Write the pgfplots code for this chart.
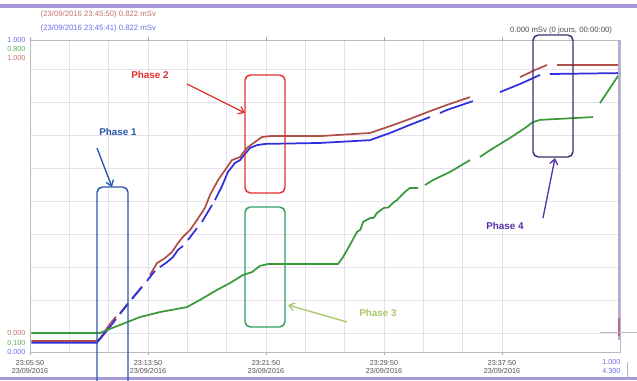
\documentclass[border=0pt]{standalone}
\usepackage{fontspec}
\setmainfont{Liberation Sans}
\usepackage{pgfplots}
\pgfplotsset{compat=1.18}
\usetikzlibrary{arrows.meta}

\definecolor{doseRed}{HTML}{B0504A}
\definecolor{doseBlue}{HTML}{2F2FE0}
\definecolor{doseGreen}{HTML}{3A9A3A}
\definecolor{gridLav}{HTML}{E6E0EE}
\definecolor{barLav}{HTML}{A898D8}
\definecolor{cursorLav}{HTML}{BCA8D8}
\definecolor{phaseOne}{HTML}{2858A8}
\definecolor{phaseTwo}{HTML}{E03030}
\definecolor{phaseThree}{HTML}{30A060}
\definecolor{phaseThreeTxt}{HTML}{A8C868}
\definecolor{phaseFour}{HTML}{40306A}
\definecolor{phaseFourTxt}{HTML}{5A30A8}
\definecolor{tickTxt}{HTML}{505050}

\newcommand{\tinyfont}{\fontsize{5.4}{6.3}\selectfont}
\newcommand{\headfont}{\fontsize{5.8}{6.5}\selectfont}
\newcommand{\phasefont}{\fontsize{7.4}{8}\selectfont\bfseries}

\begin{document}
\begin{tikzpicture}[x=0.75pt,y=0.75pt]
\path[use as bounding box] (0,0) rectangle (637,380);
\fill[white] (0,0) rectangle (637,380);
% window frame bars
\fill[barLav] (0,372) rectangle (637,376);
\fill[barLav] (0,0) rectangle (637,3);

\begin{axis}[
  at={(22.5pt,21pt)}, anchor=south west,
  scale only axis, width=442.5pt, height=234pt,
  xmin=0, xmax=40, ymin=0, ymax=1,
  axis line style={gray!55},
  xtick={0,8,16,24,32},
  xticklabels={{23:05:50\\23/09/2016},{23:13:50\\23/09/2016},{23:21:50\\23/09/2016},{23:29:50\\23/09/2016},{23:37:50\\23/09/2016}},
  xticklabel style={align=center, font=\tinyfont, text=tickTxt},
  minor x tick num=2,
  ytick={0.061,0.167,0.272,0.378,0.484,0.590,0.696,0.801,0.907},
  yticklabels={},
  grid=both,
  major grid style={gridLav, line width=0.5pt},
  minor grid style={gridLav, line width=0.5pt},
  tick align=outside,
  major tick length=2.5pt, minor tick length=0pt,
  ytick style={draw=none},
  xtick style={gray!70},
  unbounded coords=jump,
  clip=false,
]
% accumulated dose, red channel
\addplot[doseRed, line width=1.3pt] coordinates {
(0.1,0.035) (4.54,0.035) (4.81,0.048) (5.08,0.067) (5.42,0.090) (5.83,0.113) (5.9,nan)
(6.10,0.124) (6.64,0.156) (6.8,nan)
(6.92,0.172) (7.59,0.210) (7.7,nan)
(8.14,0.247) (8.61,0.285) (9.15,0.301) (9.63,0.321) (10.03,0.349) (10.37,0.369) (10.85,0.391) (11.32,0.423) (11.86,0.462) (12.20,0.503) (12.75,0.551) (13.22,0.583) (13.69,0.615) (14.24,0.625) (14.71,0.654) (15.25,0.673) (15.73,0.689) (16.27,0.692) (19.66,0.692) (23.05,0.702) (24.41,0.724) (25.76,0.747) (27.12,0.772) (28.27,0.792) (29.83,0.817) (30.0,nan)
(33.22,0.881) (34.24,0.904) (35.05,0.920) (35.3,nan)
(35.73,0.920) (40,0.920)
};
% accumulated dose, blue channel
\addplot[doseBlue, line width=1.3pt] coordinates {
(0.1,0.030) (4.54,0.030) (4.81,0.045) (5.08,0.061) (5.42,0.080) (5.83,0.106) (5.95,nan)
(6.10,0.122) (6.64,0.154) (6.8,nan)
(6.92,0.170) (7.59,0.208) (7.7,nan)
(7.93,0.228) (8.47,0.260) (8.6,nan)
(8.81,0.272) (9.29,0.288) (9.69,0.304) (10.03,0.327) (10.37,0.340) (10.5,nan)
(10.71,0.359) (11.32,0.397) (11.5,nan)
(11.66,0.417) (12.34,0.471) (12.45,nan)
(12.54,0.487) (13.02,0.532) (13.42,0.577) (13.90,0.606) (14.24,0.615) (14.58,0.635) (14.92,0.654) (15.39,0.663) (15.93,0.667) (19.66,0.670) (23.05,0.679) (24.41,0.702) (25.76,0.728) (27.12,0.753) (27.4,nan)
(27.80,0.766) (28.27,0.776) (30.03,0.804) (30.5,nan)
(31.86,0.833) (33.22,0.859) (34.58,0.888) (34.9,nan)
(35.25,0.891) (40,0.894)
};
% accumulated dose, green channel
\addplot[doseGreen, line width=1.3pt] coordinates {
(0.1,0.061) (4.75,0.061) (5.02,0.067) (5.42,0.074) (6.44,0.093) (7.46,0.112) (8.81,0.128) (10.64,0.144) (11.53,0.167) (12.68,0.199) (13.56,0.221) (14.44,0.247) (15.05,0.256) (15.59,0.276) (16.14,0.282) (20.88,0.282) (21.22,0.304) (21.69,0.343) (22.17,0.385) (22.40,0.392) (22.58,0.417) (23.05,0.429) (23.30,0.430) (23.53,0.446) (24.00,0.462) (24.30,0.463) (24.61,0.478) (24.88,0.487) (25.42,0.513) (25.76,0.526) (26.31,0.526) (26.5,nan)
(26.78,0.535) (27.32,0.551) (28.47,0.577) (29.83,0.615) (30.2,nan)
(30.5,0.625) (31.19,0.647) (32.54,0.686) (33.56,0.718) (34.10,0.737) (34.58,0.744) (38.17,0.753) (38.4,nan)
(38.64,0.798) (40,0.894)
};
\end{axis}

% cursor at the end of the record
\draw[cursorLav, line width=2.2pt] (619,340) -- (619,40);
\draw[cursorLav!60!purple, line width=2.2pt] (619,62) -- (619,44);

% header readouts
\node[anchor=west, font=\headfont, text=doseRed!80!white] at (36,366) {(23/09/2016 23:45:50) 0.822 mSv};
\node[anchor=west, font=\headfont, text=doseBlue!70!white] at (36,352) {(23/09/2016 23:45:41) 0.822 mSv};
\node[font=\headfont, text=tickTxt] at (561,350) {0.000 mSv (0 jours, 00:00:00)};

% per-channel scale limits
\node[anchor=east, font=\tinyfont, text=doseBlue!70!white] at (30,340) {1.000};
\node[anchor=east, font=\tinyfont, text=doseGreen!80!white] at (30,331) {0.800};
\node[anchor=east, font=\tinyfont, text=doseRed!80!white] at (30,322) {1.000};
\node[anchor=east, font=\tinyfont, text=doseRed!80!white] at (30,47) {0.000};
\node[anchor=east, font=\tinyfont, text=doseGreen!80!white] at (30,37) {0.100};
\node[anchor=east, font=\tinyfont, text=doseBlue!70!white] at (30,28) {0.000};
\node[anchor=east, font=\tinyfont, text=doseBlue!70!white] at (625,18) {1.000};
\node[anchor=east, font=\tinyfont, text=doseBlue!70!white] at (625,9) {4.300};
\draw[gray!50] (600,48) -- (637,48);
\draw[gray!60] (627,0) -- (627,18);

% phase annotations
\draw[phaseOne, line width=1.1pt, rounded corners=4pt] (97,-10) rectangle (128,193);
\draw[phaseTwo, line width=1.1pt, rounded corners=4pt] (245,187) rectangle (285,305);
\draw[phaseThree, line width=1.1pt, rounded corners=4pt] (245,53) rectangle (285,173);
\draw[phaseFour, line width=1.1pt, rounded corners=4pt] (533,223) rectangle (573,345);

\node[font=\phasefont, text=phaseOne] at (118,248) {Phase 1};
\node[font=\phasefont, text=phaseTwo] at (150,305) {Phase 2};
\node[font=\phasefont, text=phaseThreeTxt] at (378,67) {Phase 3};
\node[font=\phasefont, text=phaseFourTxt] at (505,154) {Phase 4};

\draw[phaseOne, line width=1pt, -{Straight Barb[length=4pt,width=6pt]}] (97,232) -- (112,193);
\draw[phaseTwo, line width=1pt, -{Straight Barb[length=4pt,width=6pt]}] (187,296) -- (245,267);
\draw[phaseThreeTxt, line width=1pt, -{Straight Barb[length=4pt,width=6pt]}] (347,58) -- (288,75);
\draw[phaseFourTxt, line width=1pt, -{Straight Barb[length=4pt,width=6pt]}] (543,162) -- (555,222);
\end{tikzpicture}
\end{document}
